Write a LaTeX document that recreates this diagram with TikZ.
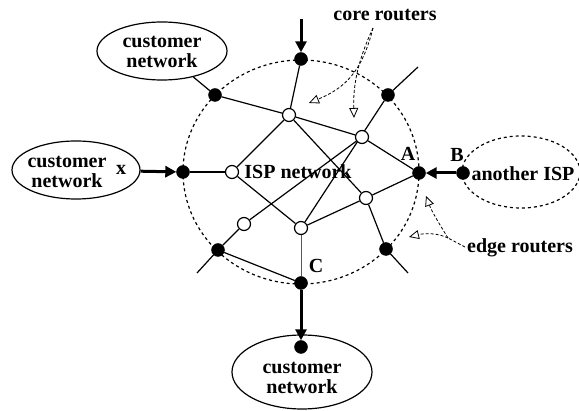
\documentclass[tikz,border=0pt]{standalone}
\usepackage{fontspec}
\setmainfont{Liberation Serif}
\usetikzlibrary{arrows.meta,shapes.geometric}
\pgfdeclarelayer{linklayer}
\pgfsetlayers{linklayer,main}
\begin{document}
\begin{tikzpicture}[x=1pt,y=-1pt,
  every node/.style={font=\fontsize{20}{20}\selectfont\bfseries},
  edgert/.style={circle,fill=black,draw=black,minimum size=13pt,inner sep=0pt},
  corert/.style={circle,fill=white,draw=black,line width=1.2pt,minimum size=13pt,inner sep=0pt},
  link/.style={line width=1.2pt},
  feed/.style={line width=3pt,-{Triangle[length=11pt,width=11pt]}},
  cust/.style={ellipse,draw,line width=1.2pt,inner sep=0pt},
  pointer/.style={line width=0.8pt,dash pattern=on 3pt off 2pt,-{Triangle[open,length=10pt,width=9pt,line width=0.8pt]}},
  txt/.style={align=center,inner sep=0pt}
]
\useasboundingbox (0,0) rectangle (579,411);
% ISP boundary
\begin{pgfonlayer}{linklayer}
\draw[line width=1.2pt,dash pattern=on 3pt off 3pt] (301,172) ellipse [x radius=118,y radius=112];
\end{pgfonlayer}
% another ISP
\node[ellipse,draw,line width=1.2pt,dash pattern=on 3pt off 3pt,minimum width=118pt,minimum height=72pt,inner sep=0pt] (aisp) at (521,172) {};
\node[txt] (aisplabel) at (523,174) {another ISP};
% customer networks
\node[cust,minimum width=130pt,minimum height=58pt] (ctl) at (162,51) {};
\node[txt] (ctltext) at (162,52) {customer\\network};
\node[cust,minimum width=128pt,minimum height=58pt] (cx) at (76,170) {};
\node[txt] (cxtext) at (67,172) {customer\\network};
\node[txt] (xlabel) at (121,170) {x};
\node[cust,minimum width=140pt,minimum height=74pt] (cb) at (302,372) {};
\node[txt] (cbtext) at (302,378) {customer\\network};
% edge routers
\node[edgert] (et) at (301,59) {};
\node[edgert] (eul) at (215,95) {};
\node[edgert] (eur) at (388,95) {};
\node[edgert] (el) at (183,172) {};
\node[edgert] (ea) at (419,173) {};
\node[edgert] (ell) at (218,250) {};
\node[edgert] (elr) at (386,249) {};
\node[edgert] (ec) at (301,283) {};
\node[edgert] (eb) at (463,173) {};
\node[edgert] (ecb) at (301,347) {};
% core routers
\node[corert] (ct) at (289,115) {};
\node[corert] (cur) at (362,137) {};
\node[corert] (cisp) at (232,172) {};
\node[corert] (clr) at (366,198) {};
\node[corert] (cbl) at (244,224) {};
\node[corert] (cbc) at (301,228) {};
% free ends
\coordinate (tin) at (301,19);
\coordinate (urout) at (418,67);
\coordinate (llout) at (197,273);
\coordinate (lrout) at (408,273);
% links
\begin{pgfonlayer}{linklayer}
\draw[link] (et) -- (ct);
\draw[link] (eul) -- (ct);
\draw[link] (eul) -- (ctl);
\draw[link] (ct) -- (cur);
\draw[link] (cur) -- (ea);
\draw[link] (ct) -- (cisp);
\draw[link] (ct) -- (clr);
\draw[link] (urout) -- (eur);
\draw[link] (eur) -- (cbc);
\draw[link] (cur) -- (cbl);
\draw[link] (cisp) -- (el);
\draw[link] (cisp) -- (cbc);
\draw[link] (cbl) -- (ell);
\draw[link] (ell) -- (llout);
\draw[link] (cbc) -- (clr);
\draw[link] (clr) -- (ea);
\draw[link] (clr) -- (elr);
\draw[link] (elr) -- (lrout);
\draw[link] (ell) -- (ec);
\draw[line width=1pt,black!65] (cbc) -- (ec);
\end{pgfonlayer}
% feeds
\draw[feed] (tin) -- (et);
\draw[feed] (cx) -- (el);
\draw[feed] (eb) -- (ea);
\draw[feed] (ec) -- (ecb);
% labels
\node[txt] (la) at (408,154) {A};
\node[txt] (lb) at (457,155) {B};
\node[txt] (lc) at (316,266) {C};
\node[txt] (isp) at (298,172) {ISP network};
\node[txt] (corelabel) at (385,15) {core routers};
\node[txt] (edgelabel) at (520,248) {edge routers};
% pointers
\coordinate (cp) at (373,28);
\coordinate (ep) at (465,247);
\coordinate (ej) at (448,238);
\draw[pointer] (cp) .. controls (362,72) and (345,88) .. (309,103);
\draw[pointer] (cp) .. controls (358,60) and (353,85) .. (354,118);
\draw[line width=0.8pt,dash pattern=on 3pt off 2pt] (ep) -- (ej);
\draw[pointer] (ej) .. controls (440,225) and (432,212) .. (426,196);
\draw[pointer] (ej) .. controls (438,233) and (425,233) .. (409,237);
\end{tikzpicture}
\end{document}
